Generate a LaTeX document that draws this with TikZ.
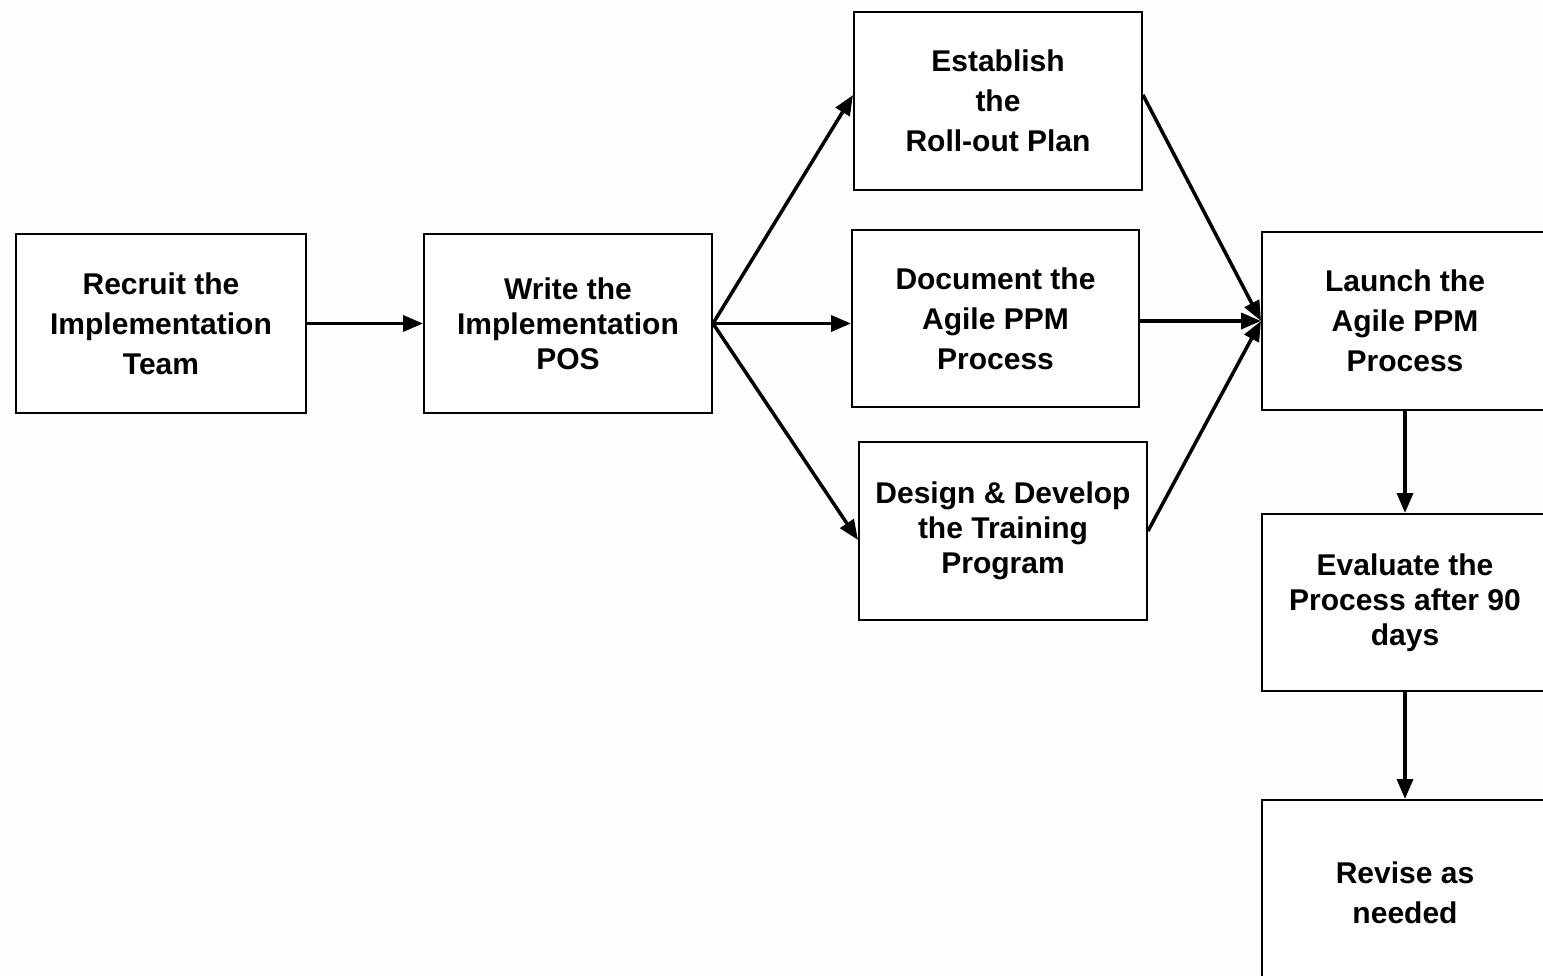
\documentclass[tikz,border=0pt]{standalone}
\usepackage{fontspec}
\setmainfont{Liberation Sans}
\usetikzlibrary{arrows.meta}
\begin{document}
\begin{tikzpicture}[x=1pt,y=-1pt,
  box/.style={draw=black,line width=2pt,fill=white,inner sep=0pt,
    minimum width=#1,minimum height=178pt,align=center,
    font=\bfseries\fontsize{30}{40}\selectfont},
  box/.default=288pt,
  tight/.style={font=\bfseries\fontsize{30}{35}\selectfont},
  arr/.style={line width=3.5pt,-{Triangle[length=20pt,width=16pt]}}]
\useasboundingbox (0,0) rectangle (1543,976);
\fill[white!99!gray] (0,0) rectangle (1543,976);
\node[box=290pt] (recruit) at (161,323.5) {Recruit the\\Implementation\\Team};
\node[box,tight] (write) at (568,323.5) {Write the\\Implementation\\POS};
\node[box] (establish) at (998,101) {Establish\\the\\Roll-out Plan};
\node[box=287pt,minimum height=177pt] (document) at (995.5,318.5) {Document the\\Agile PPM\\Process};
\node[box,tight] (design) at (1003,531) {Design \& Develop\\the Training\\Program};
\node[box=286pt] (launch) at (1405,321) {Launch the\\Agile PPM\\Process};
\node[box=286pt,tight,minimum height=177pt] (evaluate) at (1405,602.5) {Evaluate the\\Process after 90\\days};
\node[box=286pt,minimum height=186pt] (revise) at (1405,893) {Revise as\\needed};
\draw[arr] (recruit.east) -- (write.west);
\draw[arr] (write.east) -- ([yshift=6pt]establish.west);
\draw[arr] (write.east) -- (write.east -| document.west);
\draw[arr] (write.east) -- ([yshift=-9pt]design.west);
\draw[arr] ([yshift=6pt]establish.east) -- (launch.west);
\draw[arr] (document.east |- launch.west) -- (launch.west);
\draw[arr] (design.east) -- (launch.west);
\draw[arr] (launch.south) -- (evaluate.north);
\draw[arr] (evaluate.south) -- (revise.north);
\end{tikzpicture}
\end{document}
